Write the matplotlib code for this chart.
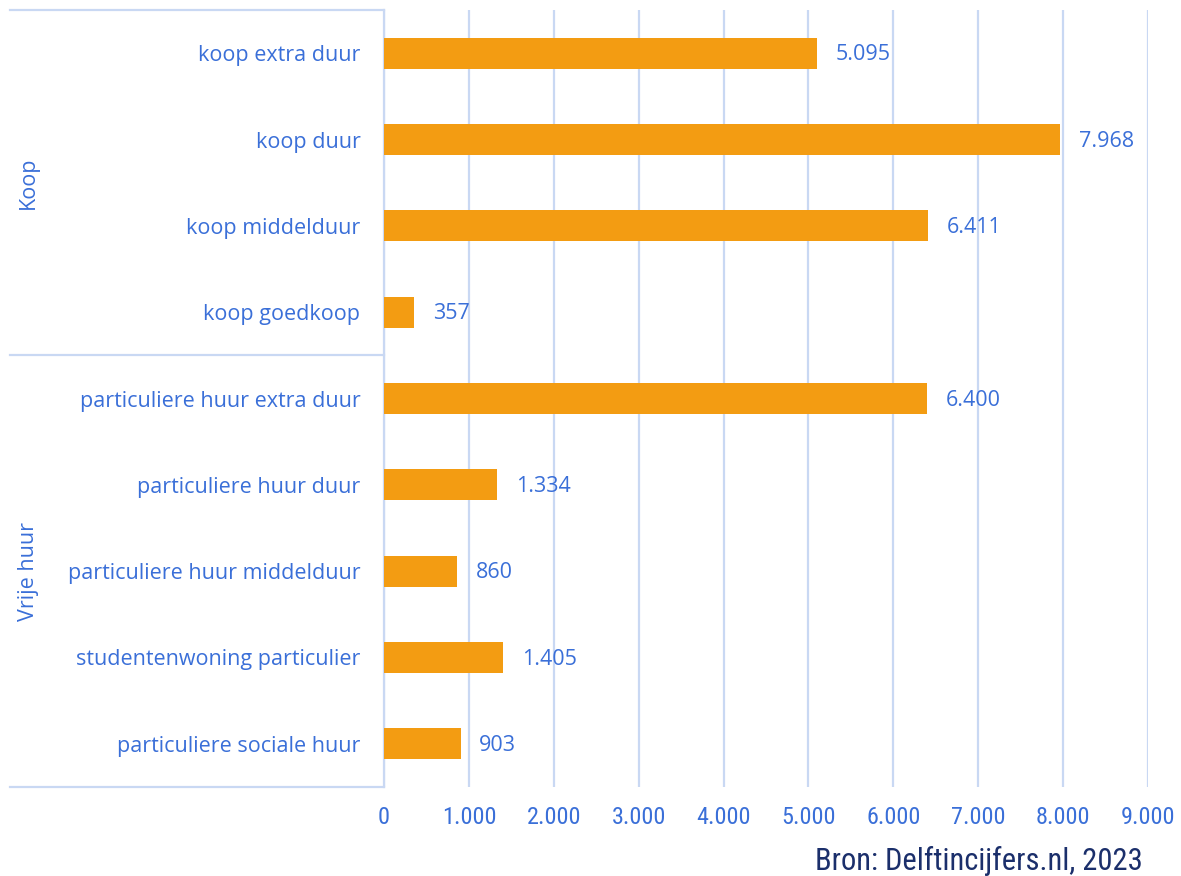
import matplotlib
matplotlib.use("Agg")
import matplotlib.pyplot as plt
from matplotlib.ticker import FuncFormatter

# woningvoorraad per segment (aantallen)
categories = [
    "koop extra duur",
    "koop duur",
    "koop middelduur",
    "koop goedkoop",
    "particuliere huur extra duur",
    "particuliere huur duur",
    "particuliere huur middelduur",
    "studentenwoning particulier",
    "particuliere sociale huur",
]
values = [5095, 7968, 6411, 357, 6400, 1334, 860, 1405, 903]
groups = ["Koop", "Vrije huur"]
group_sizes = [4, 5]
x_ticks = [0, 1000, 2000, 3000, 4000, 5000, 6000, 7000, 8000, 9000]

BAR = "#f39c12"
TEXT = "#3a6fd8"
GRID = "#c9d8f3"
NAVY = "#1b2f6b"
FONT = ["Open Sans", "DejaVu Sans"]
NARROW = ["Roboto Condensed", "DejaVu Sans"]


def dots(v, pos=None):
    return "{:,.0f}".format(v).replace(",", ".")


fig = plt.figure(figsize=(11.81, 8.76), dpi=100)
ax = fig.add_axes([384 / 1181, 1 - 787 / 876, 764 / 1181, 777 / 876])

ypos = list(range(len(categories)))
ax.barh(ypos, values, height=0.36, color=BAR, zorder=3)
ax.set_ylim(len(categories) - 0.5, -0.5)
ax.set_xlim(0, 9000)

for y, v in zip(ypos, values):
    ax.text(v + 220, y + 0.02, dots(v), va="center", ha="left", color=TEXT,
            fontsize=15.5, family=FONT)

ax.set_yticks(ypos)
ax.set_yticklabels(categories, family=FONT, fontsize=15.5, color=TEXT)
ax.set_xticks(x_ticks)
ax.xaxis.set_major_formatter(FuncFormatter(dots))
ax.tick_params(axis="x", length=0, pad=14, labelsize=17.5, labelcolor=TEXT,
               labelfontfamily=NARROW)
ax.tick_params(axis="y", length=0, pad=17)

ax.grid(axis="x", color=GRID, linewidth=1.6, zorder=0)
for s in ["top", "right", "bottom"]:
    ax.spines[s].set_visible(False)
ax.spines["left"].set_color(GRID)
ax.spines["left"].set_linewidth(1.6)

# group brackets on the left
tr = ax.get_yaxis_transform()
x0 = -374 / 764
edges = [-0.5]
for n in group_sizes:
    edges.append(edges[-1] + n)
for e in edges:
    ax.plot([x0, 0], [e, e], transform=tr, color=GRID, linewidth=1.6,
            clip_on=False, zorder=1)
for g, lo, hi in zip(groups, edges[:-1], edges[1:]):
    ax.text(x0 + 0.024, (lo + hi) / 2, g, transform=tr, rotation=90,
            va="center", ha="center", color=TEXT, fontsize=15.5, family=FONT)

fig.text(1143 / 1181, 1 - 861 / 876, "Bron: Delftincijfers.nl, 2023",
         ha="right", va="center", color=NAVY, fontsize=22, family=NARROW)

fig.savefig("out.png", dpi=100)
